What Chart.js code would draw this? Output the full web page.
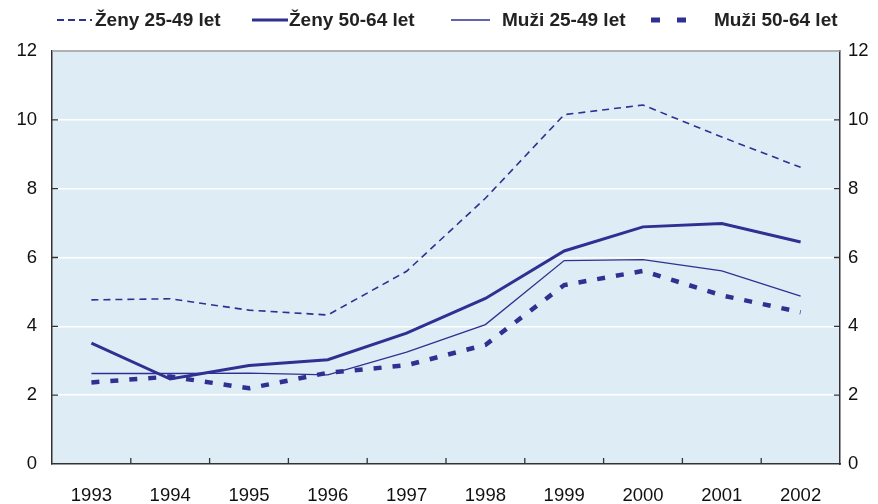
<!DOCTYPE html>
<html>
<head>
<meta charset="utf-8">
<script src="https://cdn.jsdelivr.net/npm/chart.js@4/dist/chart.umd.min.js"></script>
<style>
  html, body { margin: 0; padding: 0; background: #fff; }
  #wrap { position: relative; width: 878px; height: 504px; }
  #legend { position: absolute; top: 8px; left: 0; width: 878px; height: 24px;
    font: bold 19px "Liberation Sans", Arial, sans-serif; color: #222; }
  #legend svg, #legend span { position: absolute; top: 0; display: block; }
  #legend span { line-height: 24px; white-space: nowrap; }
</style>
</head>
<body>
<div id="wrap">
  <canvas id="chart" width="878" height="504"></canvas>
  <div id="legend"></div>
</div>
<script>
const years = ['1993', '1994', '1995', '1996', '1997', '1998', '1999', '2000', '2001', '2002'];
const zeny2549 = [4.77, 4.80, 4.47, 4.33, 5.60, 7.72, 10.15, 10.43, 9.50, 8.62];
const zeny5064 = [3.51, 2.47, 2.86, 3.03, 3.80, 4.81, 6.19, 6.89, 6.99, 6.45];
const muzi2549 = [2.63, 2.63, 2.64, 2.59, 3.25, 4.05, 5.91, 5.94, 5.61, 4.88];
const muzi5064 = [2.37, 2.54, 2.20, 2.65, 2.87, 3.46, 5.20, 5.61, 4.90, 4.41];
const yTicks = [0, 2, 4, 6, 8, 10, 12];

const navy = '#2e3192';
const font = { family: '"Liberation Sans", Arial, sans-serif', size: 18.5 };

// legend: sample line from x1 to x2, label starting at tx
const legendItems = [
  { label: 'Ženy 25-49 let', x1: 57, x2: 92, tx: 95, stroke: 1.8, dash: '7 4' },
  { label: 'Ženy 50-64 let', x1: 252, x2: 288, tx: 289, stroke: 3, dash: '' },
  { label: 'Muži 25-49 let', x1: 451, x2: 490, tx: 502, stroke: 1.5, dash: '' },
  { label: 'Muži 50-64 let', x1: 651, x2: 686, tx: 714, stroke: 5, dash: '9 17' },
];
const legendEl = document.getElementById('legend');
legendItems.forEach(it => {
  const w = it.x2 - it.x1;
  legendEl.insertAdjacentHTML('beforeend',
    `<svg style="left:${it.x1}px" width="${w}" height="24"><line x1="0" y1="12" x2="${w}" y2="12"
      stroke="${navy}" stroke-width="${it.stroke}" stroke-dasharray="${it.dash}"/></svg>` +
    `<span style="left:${it.tx}px">${it.label}</span>`);
});

const frame = {
  id: 'frame',
  beforeDraw(chart) {
    const { ctx, chartArea: a } = chart;
    ctx.save();
    ctx.fillStyle = '#deedf5';
    ctx.fillRect(a.left, a.top, a.right - a.left, a.bottom - a.top);
    ctx.restore();
  },
  afterDraw(chart) {
    const { ctx, chartArea: a, scales } = chart;
    ctx.save();
    ctx.strokeStyle = '#999';
    ctx.lineWidth = 1.5;
    ctx.beginPath();
    ctx.moveTo(a.left, a.top);
    ctx.lineTo(a.right, a.top);
    ctx.stroke();
    // short tick marks pointing into the plot
    ctx.strokeStyle = '#333';
    ctx.lineWidth = 1.3;
    ctx.beginPath();
    yTicks.slice(1, -1).forEach(v => {
      const y = scales.y.getPixelForValue(v);
      ctx.moveTo(a.left, y); ctx.lineTo(a.left + 6, y);
      ctx.moveTo(a.right, y); ctx.lineTo(a.right - 6, y);
    });
    for (let i = 1; i < years.length; i++) {
      const x = (scales.x.getPixelForValue(i - 1) + scales.x.getPixelForValue(i)) / 2;
      ctx.moveTo(x, a.bottom); ctx.lineTo(x, a.bottom - 6);
    }
    ctx.stroke();
    ctx.restore();
  },
};

const base = { borderColor: navy, pointRadius: 0, tension: 0, fill: false, borderCapStyle: 'butt' };

new Chart(document.getElementById('chart'), {
  type: 'line',
  data: {
    labels: years,
    datasets: [
      { ...base, label: 'Ženy 25-49 let', data: zeny2549, borderWidth: 1.6, borderDash: [7, 5] },
      { ...base, label: 'Ženy 50-64 let', data: zeny5064, borderWidth: 3 },
      { ...base, label: 'Muži 25-49 let', data: muzi2549, borderWidth: 1.3 },
      { ...base, label: 'Muži 50-64 let', data: muzi5064, borderWidth: 4.5, borderDash: [8, 11] },
    ],
  },
  options: {
    responsive: false,
    animation: false,
    layout: { padding: { top: 51, left: 0, right: 0, bottom: 0 } },
    plugins: { legend: { display: false }, tooltip: { enabled: false } },
    scales: {
      x: {
        offset: true,
        grid: { display: false, drawTicks: false },
        border: { display: true, color: '#333', width: 1.5 },
        ticks: { font, color: '#111', padding: 21, maxRotation: 0 },
        afterFit: s => { s.height = 40; },
      },
      y: {
        position: 'left',
        min: 0, max: 12,
        afterBuildTicks: s => { s.ticks = yTicks.map(v => ({ value: v })); },
        grid: { color: '#ffffff', lineWidth: 1.5, drawTicks: false },
        border: { display: true, color: '#333', width: 1.5 },
        ticks: { font, color: '#111', padding: 15 },
        afterFit: s => { s.width = 52; },
      },
      y2: {
        position: 'right',
        min: 0, max: 12,
        afterBuildTicks: s => { s.ticks = yTicks.map(v => ({ value: v })); },
        grid: { display: false, drawTicks: false },
        border: { display: true, color: '#333', width: 1.5 },
        ticks: { font, color: '#111', padding: 8 },
        afterFit: s => { s.width = 38; },
      },
    },
  },
  plugins: [frame],
});
</script>
</body>
</html>
